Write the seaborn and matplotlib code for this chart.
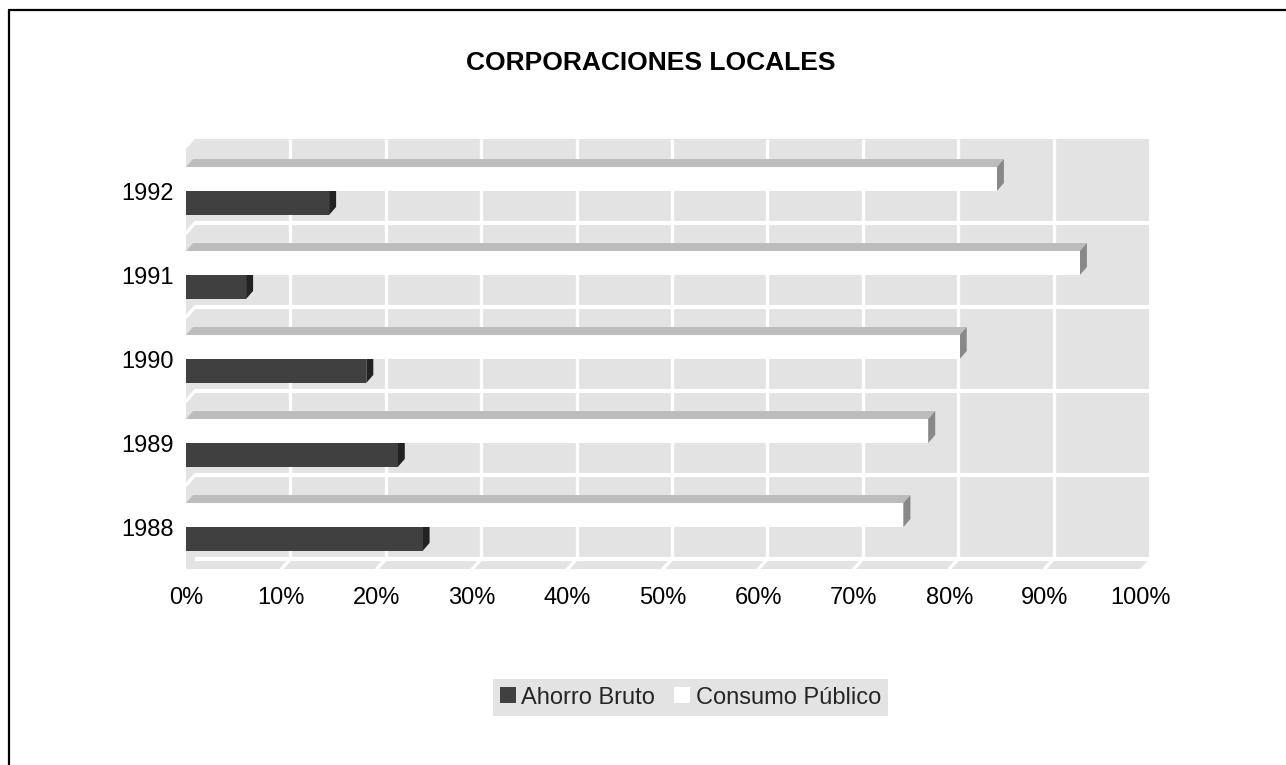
import matplotlib
matplotlib.use("Agg")
import matplotlib.pyplot as plt
from matplotlib.patches import Polygon, Rectangle, Patch
from matplotlib.lines import Line2D
import seaborn as sns
import pandas as pd

# ---- data (percent of total) ----
years = ["1988", "1989", "1990", "1991", "1992"]
ahorro_bruto = [24.8, 22.2, 18.9, 6.3, 15.0]
consumo_publico = [75.2, 77.8, 81.1, 93.7, 85.0]
series_names = ["Ahorro Bruto", "Consumo Público"]
x_ticks = [0, 10, 20, 30, 40, 50, 60, 70, 80, 90, 100]
x_tick_labels = [f"{t}%" for t in x_ticks]
title = "CORPORACIONES LOCALES"

df = pd.DataFrame({
    "year": years * 2,
    "value": ahorro_bruto + consumo_publico,
    "serie": [series_names[0]] * len(years) + [series_names[1]] * len(years),
})

DARK = "#404040"
WHITE = "#ffffff"
TOPFACE = "#bcbcbc"
SIDE_WHITE = "#888888"
SIDE_DARK = "#222222"
WALL = "#e3e3e3"
FS = 17

sns.set_theme(style="white")
plt.rcParams["font.family"] = ["Liberation Sans", "DejaVu Sans"]

W, H = 1286, 765
fig = plt.figure(figsize=(W / 100, H / 100), dpi=100)
# front plane of the 3D box: x 0..100% -> 186..1140 px, categories -> 149..569 px
ax = fig.add_axes([186 / W, (H - 569) / H, 954 / W, 420 / H])

order = years[::-1]  # 1992 on top
sns.barplot(data=df, x="value", y="year", hue="serie", order=order,
            hue_order=[series_names[1], series_names[0]],
            palette={series_names[0]: DARK, series_names[1]: WHITE},
            width=0.57, orient="h", saturation=1, legend=False,
            edgecolor="none", linewidth=0, ax=ax)
bars = [p for p in ax.patches]

n = len(order)
ax.set_xlim(0, 100)
ax.set_ylim(n - 0.5, -0.5)

px_x = 954 / 100.0   # px per percent
px_y = 420 / n       # px per category

# bar depth (px) and wall depth (px)
bdx, bdy = 7 / px_x, 8 / px_y
wdx, wdy = 9 / px_x, 10 / px_y

# back wall
ax.add_patch(Rectangle((wdx, -0.5 - wdy), 100, n, facecolor=WALL,
                       edgecolor="none", zorder=0, clip_on=False))
# left wall
ax.add_patch(Polygon([(0, -0.5), (wdx, -0.5 - wdy), (wdx, n - 0.5 - wdy), (0, n - 0.5)],
                     closed=True, facecolor=WALL, edgecolor="none", zorder=0, clip_on=False))
# floor
ax.add_patch(Polygon([(0, n - 0.5), (100, n - 0.5), (100 + wdx, n - 0.5 - wdy), (wdx, n - 0.5 - wdy)],
                     closed=True, facecolor=WALL, edgecolor="none", zorder=0, clip_on=False))

GL = 2.4
for t in x_ticks[1:-1]:
    ax.plot([t + wdx, t + wdx], [-0.5 - wdy, n - 0.5 - wdy], color="white", lw=GL, zorder=1,
            solid_capstyle="butt", clip_on=False)
    ax.plot([t, t + wdx], [n - 0.5, n - 0.5 - wdy], color="white", lw=GL, zorder=1, clip_on=False)
for k in range(1, n + 1):
    yb = -0.5 + k
    ax.plot([wdx, 100 + wdx], [yb - wdy, yb - wdy], color="white", lw=GL + 0.6, zorder=1,
            solid_capstyle="butt", clip_on=False)
    if k < n:
        ax.plot([0, wdx], [yb, yb - wdy], color="white", lw=GL, zorder=1, clip_on=False)

# 3D faces of bars
for b in bars:
    x0 = b.get_x()
    w = b.get_width()
    y0 = b.get_y()
    h = b.get_height()
    ytop, ybot = min(y0, y0 + h), max(y0, y0 + h)
    x1 = x0 + w
    fc = b.get_facecolor()
    is_dark = fc[0] < 0.5
    side = SIDE_DARK if is_dark else SIDE_WHITE
    ax.add_patch(Polygon([(x0, ytop), (x1, ytop), (x1 + bdx, ytop - bdy), (x0 + bdx, ytop - bdy)],
                         closed=True, facecolor=TOPFACE, edgecolor="none", zorder=2, clip_on=False))
    ax.add_patch(Polygon([(x1, ytop), (x1 + bdx, ytop - bdy), (x1 + bdx, ybot - bdy), (x1, ybot)],
                         closed=True, facecolor=side, edgecolor="none", zorder=2, clip_on=False))
    b.set_zorder(3)
    b.set_clip_on(False)

for s in ax.spines.values():
    s.set_visible(False)
ax.set_facecolor("none")
ax.grid(False)
ax.set_xticks(x_ticks)
ax.set_xticklabels(x_tick_labels, fontsize=FS, color="black")
ax.tick_params(axis="x", length=0, pad=13)
ax.tick_params(axis="y", length=0, pad=9, labelsize=FS, labelcolor="black")
ax.set_xlabel("")
ax.set_ylabel("")

fig.text(650.5 / W, 1 - 63 / H, title, ha="center", va="center",
         fontsize=19, fontweight="bold", color="black")

handles = [Patch(facecolor=DARK, edgecolor="none", label=series_names[0]),
           Patch(facecolor=WHITE, edgecolor="none", label=series_names[1])]
leg = fig.legend(handles=handles, loc="center", bbox_to_anchor=(690.5 / W, 1 - 697.5 / H),
                 ncol=2, fontsize=FS, frameon=True, fancybox=False, framealpha=1,
                 handlelength=0.65, handleheight=0.65, handletextpad=0.25,
                 columnspacing=0.8, borderpad=0.3, borderaxespad=0)
leg.get_frame().set_facecolor(WALL)
leg.get_frame().set_edgecolor("none")

# outer frame (left and top edges visible)
fig.add_artist(Line2D([8.5 / W, 8.5 / W], [0, 1 - 9.5 / H], transform=fig.transFigure,
                      color="black", lw=1.6))
fig.add_artist(Line2D([8.5 / W, 1], [1 - 9.5 / H, 1 - 9.5 / H], transform=fig.transFigure,
                      color="black", lw=1.6))

fig.savefig("out.png", dpi=100, facecolor="white")
